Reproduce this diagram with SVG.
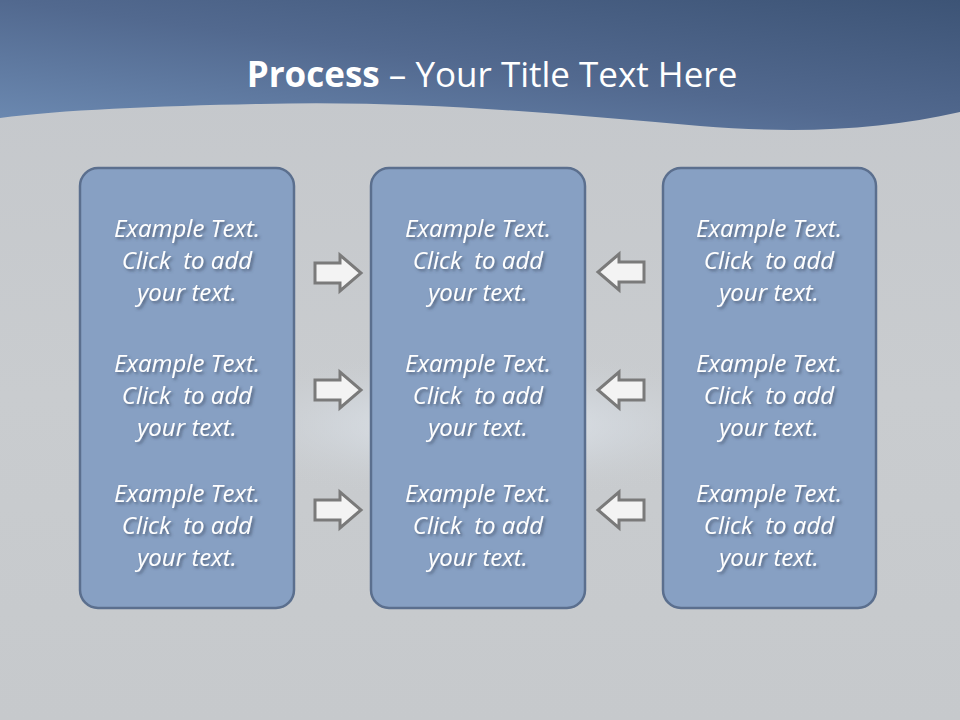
<svg xmlns="http://www.w3.org/2000/svg" width="960" height="720" viewBox="0 0 960 720">
<defs>
<linearGradient id="bg" x1="0" y1="0" x2="0" y2="1">
<stop offset="0" stop-color="#c4c7cb"/>
<stop offset="0.55" stop-color="#c9cccf"/>
<stop offset="1" stop-color="#c6c9cc"/>
</linearGradient>
<radialGradient id="glow" cx="480" cy="425" r="300" gradientUnits="userSpaceOnUse" gradientTransform="translate(0,425) scale(1,0.25) translate(0,-425)">
<stop offset="0" stop-color="#e8eef5" stop-opacity="0.9"/>
<stop offset="0.5" stop-color="#d6dce3" stop-opacity="0.5"/>
<stop offset="1" stop-color="#c9cccf" stop-opacity="0"/>
</radialGradient>
<linearGradient id="band" x1="0" y1="1" x2="1" y2="0">
<stop offset="0" stop-color="#6d8bb3"/>
<stop offset="0.5" stop-color="#52698f"/>
<stop offset="1" stop-color="#3d5476"/>
</linearGradient>
<filter id="ts" x="-10%" y="-10%" width="130%" height="140%">
<feDropShadow dx="2" dy="2" stdDeviation="1.5" flood-color="#3a4a60" flood-opacity="0.7"/>
</filter>
<style>
.box{fill:#87a0c3;stroke:#5b6f8e;stroke-width:2.5}
.t{font-family:"Open Sans","Liberation Sans",sans-serif;font-style:italic;font-size:24px;fill:#ffffff;text-anchor:middle;filter:url(#ts);white-space:pre}
.arr{fill:#f3f3f3;stroke:#7a7a7a;stroke-width:3;stroke-linejoin:miter}
.title{font-family:"Open Sans","Liberation Sans",sans-serif;font-size:35px;fill:#ffffff;text-anchor:middle}
</style>
<path id="ra" d="M0,-10 L25,-10 L25,-18 L46,0 L25,18 L25,10 L0,10 Z"/>
</defs>
<rect width="960" height="720" fill="url(#bg)"/>
<rect x="0" y="300" width="960" height="260" fill="url(#glow)"/>
<path d="M0,0 H960 V112 C880,130 800,134 700,126 C560,114 420,100 260,104 C160,106 60,110 0,118 Z" fill="url(#band)"/>
<text class="title" x="492" y="87"><tspan font-weight="bold">Process</tspan> – Your Title Text Here</text>

<g id="box-left">
<rect class="box" x="80" y="168" width="214" height="440" rx="18"/>
<text class="t"><tspan x="187" y="237">Example Text.</tspan><tspan x="187" y="269">Click  to add</tspan><tspan x="187" y="301">your text.</tspan></text>
<text class="t"><tspan x="187" y="372">Example Text.</tspan><tspan x="187" y="404">Click  to add</tspan><tspan x="187" y="436">your text.</tspan></text>
<text class="t"><tspan x="187" y="502">Example Text.</tspan><tspan x="187" y="534">Click  to add</tspan><tspan x="187" y="566">your text.</tspan></text>
</g>
<g id="box-middle">
<rect class="box" x="371" y="168" width="214" height="440" rx="18"/>
<text class="t"><tspan x="478" y="237">Example Text.</tspan><tspan x="478" y="269">Click  to add</tspan><tspan x="478" y="301">your text.</tspan></text>
<text class="t"><tspan x="478" y="372">Example Text.</tspan><tspan x="478" y="404">Click  to add</tspan><tspan x="478" y="436">your text.</tspan></text>
<text class="t"><tspan x="478" y="502">Example Text.</tspan><tspan x="478" y="534">Click  to add</tspan><tspan x="478" y="566">your text.</tspan></text>
</g>
<g id="box-right">
<rect class="box" x="663" y="168" width="213" height="440" rx="18"/>
<text class="t"><tspan x="769" y="237">Example Text.</tspan><tspan x="769" y="269">Click  to add</tspan><tspan x="769" y="301">your text.</tspan></text>
<text class="t"><tspan x="769" y="372">Example Text.</tspan><tspan x="769" y="404">Click  to add</tspan><tspan x="769" y="436">your text.</tspan></text>
<text class="t"><tspan x="769" y="502">Example Text.</tspan><tspan x="769" y="534">Click  to add</tspan><tspan x="769" y="566">your text.</tspan></text>
</g>
<g id="connectors">
<use href="#ra" class="arr" transform="translate(315,273)"/>
<use href="#ra" class="arr" transform="translate(315,390)"/>
<use href="#ra" class="arr" transform="translate(315,510)"/>
<use href="#ra" class="arr" transform="translate(644,272) scale(-1,1)"/>
<use href="#ra" class="arr" transform="translate(644,390) scale(-1,1)"/>
<use href="#ra" class="arr" transform="translate(644,510) scale(-1,1)"/>
</g>
</svg>
